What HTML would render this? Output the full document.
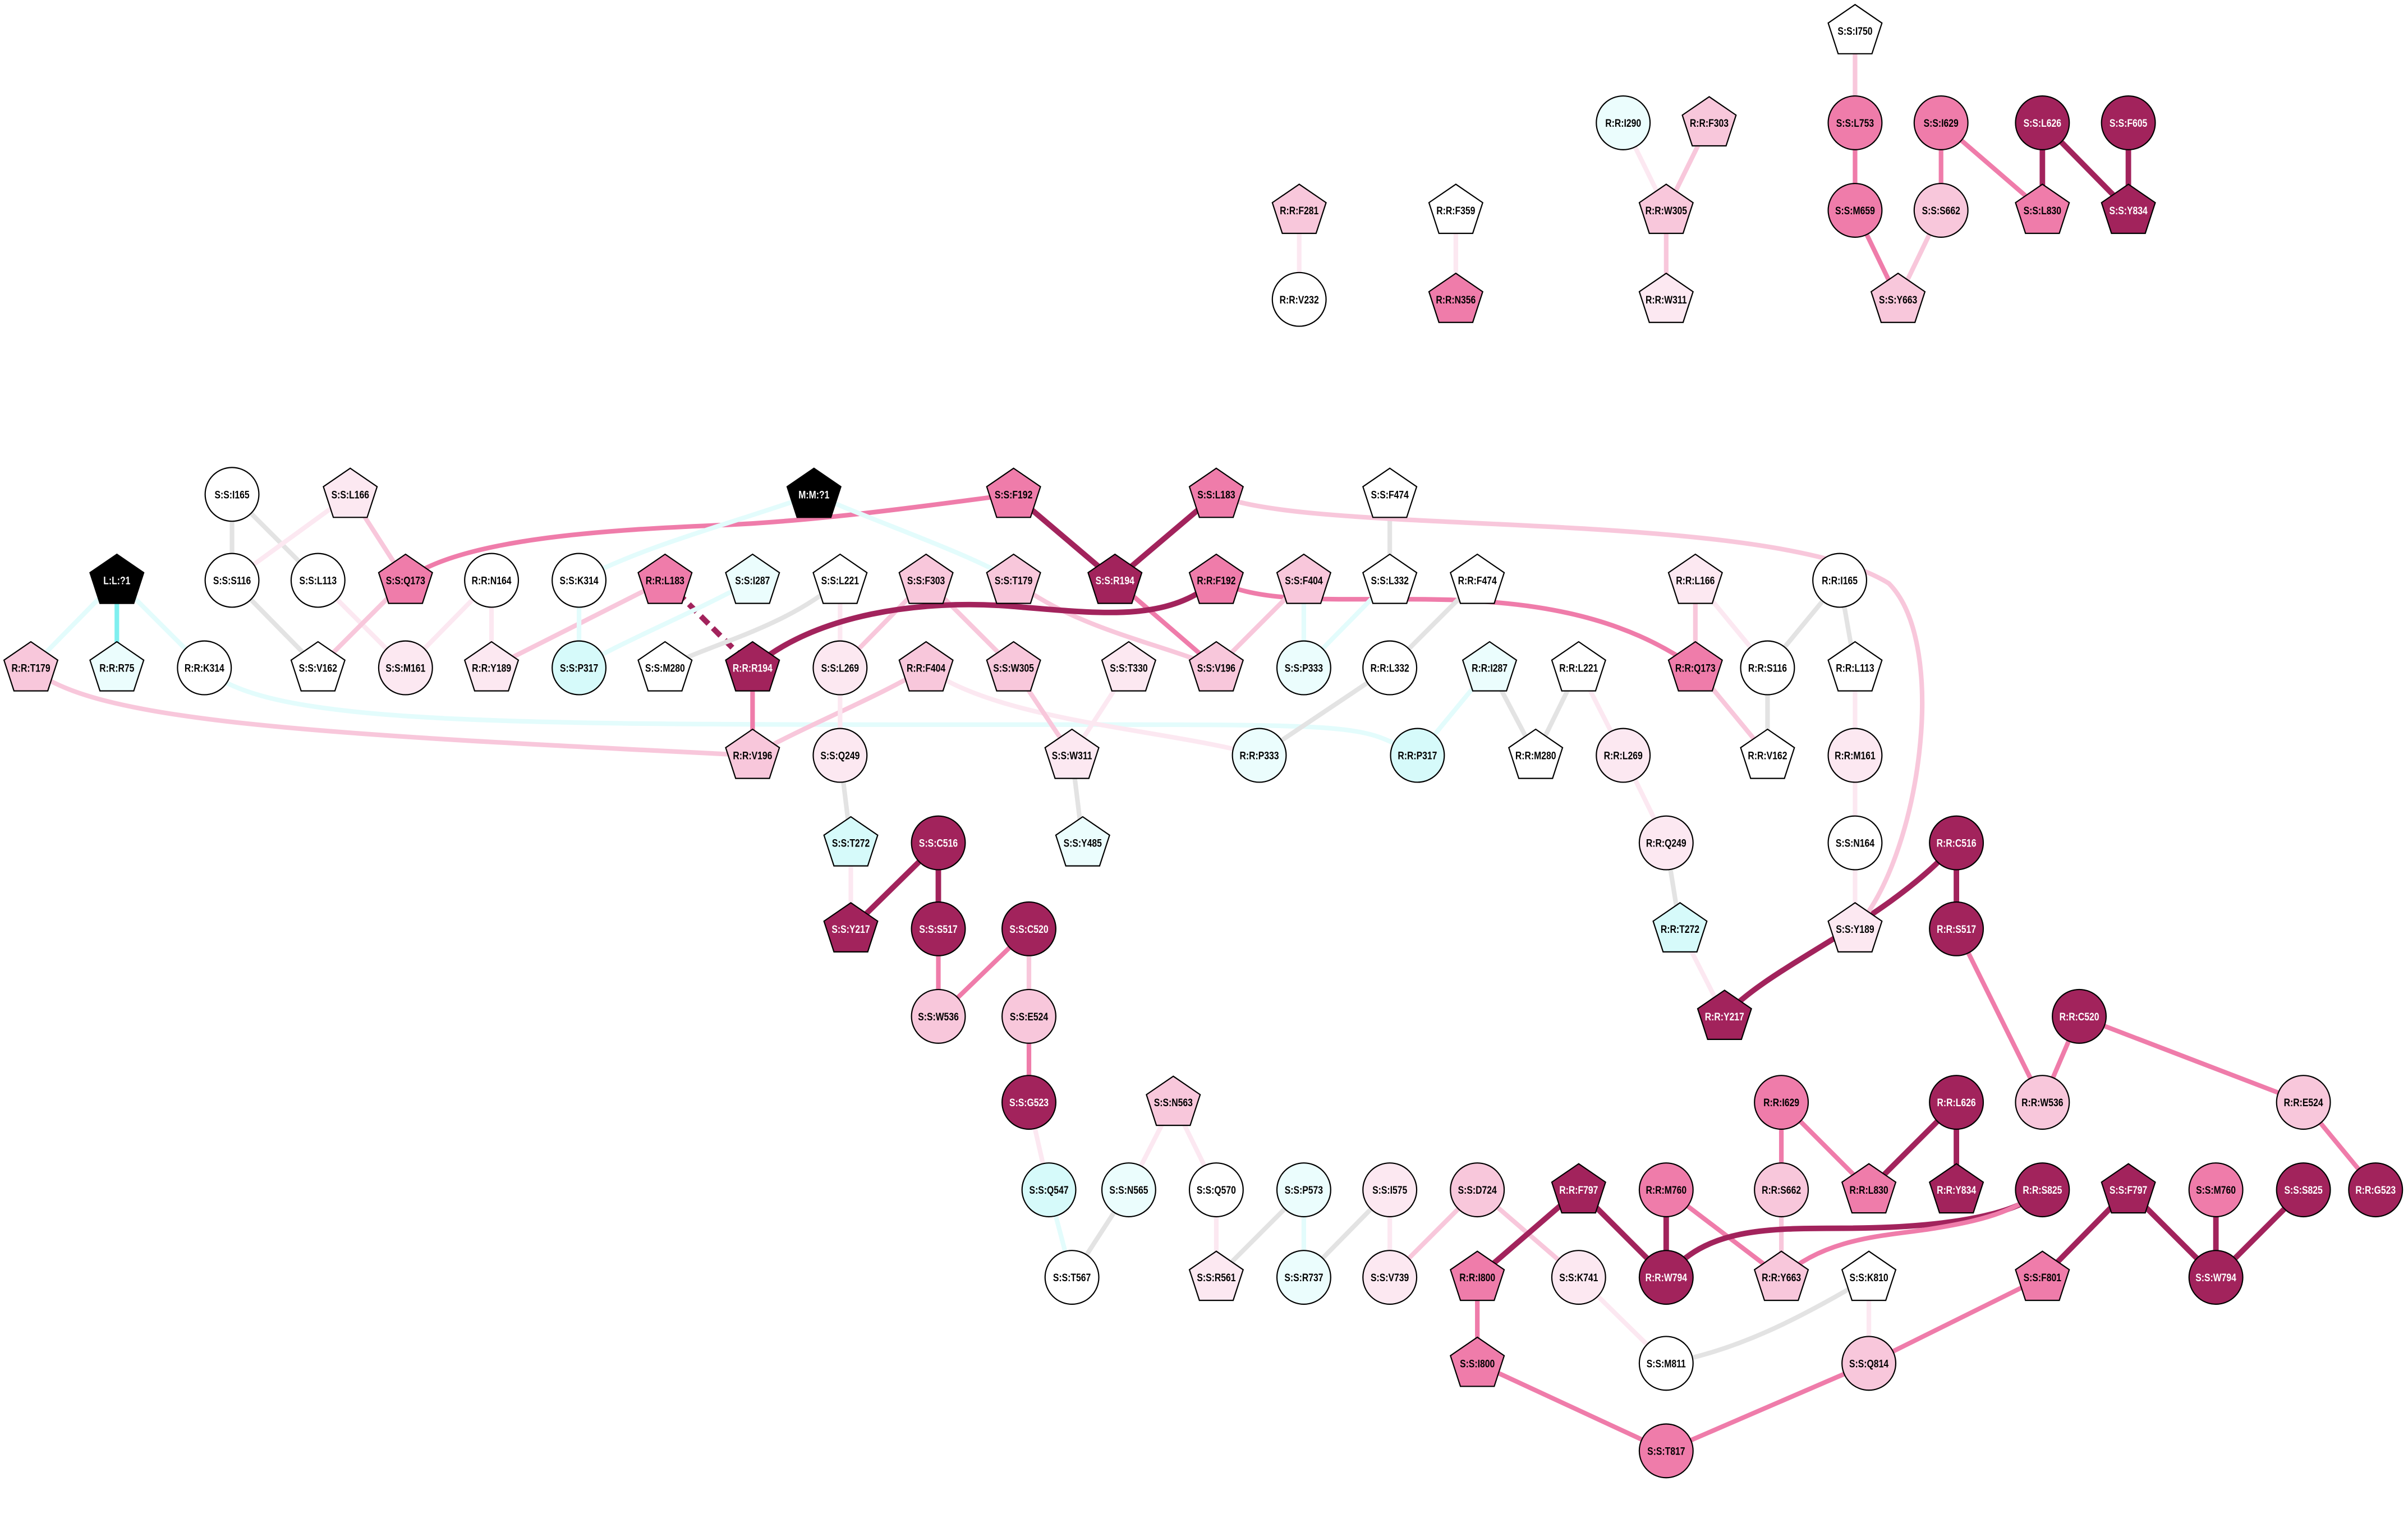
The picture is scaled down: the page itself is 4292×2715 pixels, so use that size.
<!DOCTYPE html>
<html><head><meta charset="utf-8"><style>
html,body{margin:0;padding:0;background:#fff;}
svg{display:block;}
text{font-family:"Liberation Sans Narrow","Liberation Sans",sans-serif;font-weight:bold;font-size:7.2px;text-anchor:middle;fill:#000;transform-box:fill-box;transform-origin:center;transform:scaleX(0.8);}
text.w{fill:#fff;}
.nd{stroke:#000;stroke-width:0.8;}
.D{fill:#A2235C}.M{fill:#EF7CAA}.L{fill:#F8C7DB}.V{fill:#FCE8F1}.W{fill:#fff}.C{fill:#D6FAFA}.c{fill:#EBFDFD}.K{fill:#000}
path.e,line{fill:none;stroke-width:3;}
.ed{stroke:#A2235C;stroke-width:3.6!important}.em{stroke:#EF7CAA}.el{stroke:#F8C7DB}.ev{stroke:#FCE8F1}.eg{stroke:#E3E3E3}.ec{stroke:#E3FCFC}.eC{stroke:#7FEFEF}
</style></head><body>
<svg width="4292" height="2715" viewBox="0 0 1568 992" xmlns="http://www.w3.org/2000/svg">
<defs><path id="p" d="M0,-17 L17.5,-5 L11,15 L-11,15 L-17.5,-5 Z"/></defs>
<g>
<line class="el" x1="1208" y1="20" x2="1208" y2="80"/>
<line class="em" x1="1208" y1="80" x2="1208" y2="137"/>
<line class="em" x1="1208" y1="137" x2="1236" y2="195"/>
<line class="em" x1="1264" y1="80" x2="1264" y2="137"/>
<line class="em" x1="1264" y1="80" x2="1330" y2="137"/>
<line class="el" x1="1264" y1="137" x2="1236" y2="195"/>
<line class="ed" x1="1330" y1="80" x2="1330" y2="137"/>
<line class="ed" x1="1330" y1="80" x2="1386" y2="137"/>
<line class="ed" x1="1386" y1="80" x2="1386" y2="137"/>
<line class="ev" x1="1057" y1="80" x2="1085" y2="137"/>
<line class="el" x1="1113" y1="80" x2="1085" y2="137"/>
<line class="el" x1="1085" y1="137" x2="1085" y2="195"/>
<line class="ev" x1="948" y1="137" x2="948" y2="195"/>
<line class="ev" x1="846" y1="137" x2="846" y2="195"/>
<line class="eg" x1="151" y1="322" x2="151" y2="378"/>
<line class="eg" x1="151" y1="322" x2="207" y2="378"/>
<line class="ev" x1="228" y1="322" x2="151" y2="378"/>
<line class="el" x1="228" y1="322" x2="264" y2="378"/>
<line class="eg" x1="151" y1="378" x2="207" y2="435"/>
<line class="ev" x1="207" y1="378" x2="264" y2="435"/>
<line class="el" x1="264" y1="378" x2="207" y2="435"/>
<path class="e em" d="M264,378 C300,350 400,345 470,342 S620,327 660,322"/>
<line class="ec" x1="76" y1="378" x2="20" y2="435"/>
<line class="eC" x1="76" y1="378" x2="76" y2="435"/>
<line class="ec" x1="76" y1="378" x2="133" y2="435"/>
<path class="e el" d="M20,435 C60,470 200,478 490,492"/>
<path class="e ec" d="M133,435 C170,470 300,472 600,472 S880,470 923,492"/>
<path class="e ec" d="M530,322 C480,340 420,355 377,378"/>
<path class="e ec" d="M530,322 C570,340 630,360 660,378"/>
<line class="ev" x1="320" y1="378" x2="320" y2="435"/>
<line class="ev" x1="320" y1="378" x2="264" y2="435"/>
<line class="ed" stroke-dasharray="7,4" x1="433" y1="378" x2="490" y2="435"/>
<line class="el" x1="433" y1="378" x2="320" y2="435"/>
<line class="ec" x1="377" y1="378" x2="377" y2="435"/>
<path class="e ec" d="M490,378 C450,400 400,420 377,435"/>
<path class="e eg" d="M547,378 C510,410 460,420 433,435"/>
<line class="ev" x1="547" y1="378" x2="547" y2="435"/>
<line class="el" x1="603" y1="378" x2="547" y2="435"/>
<line class="el" x1="603" y1="378" x2="660" y2="435"/>
<path class="e el" d="M660,378 C700,410 760,420 792,435"/>
<line class="ed" x1="660" y1="322" x2="726" y2="378"/>
<line class="ed" x1="792" y1="322" x2="726" y2="378"/>
<line class="em" x1="726" y1="378" x2="792" y2="435"/>
<path class="e ed" d="M490,435 C530,400 600,390 660,395 S760,405 792,378"/>
<path class="e em" d="M792,378 C850,410 1000,360 1104,435"/>
<line class="el" x1="849" y1="378" x2="792" y2="435"/>
<line class="ec" x1="849" y1="378" x2="849" y2="435"/>
<line class="eg" x1="905" y1="322" x2="905" y2="378"/>
<line class="ec" x1="905" y1="378" x2="849" y2="435"/>
<line class="eg" x1="962" y1="378" x2="905" y2="435"/>
<line class="eg" x1="905" y1="435" x2="820" y2="492"/>
<line class="em" x1="490" y1="435" x2="490" y2="492"/>
<path class="e el" d="M603,435 C570,455 530,470 490,492"/>
<path class="e ev" d="M603,435 C650,470 760,475 820,492"/>
<line class="ev" x1="547" y1="435" x2="547" y2="492"/>
<line class="el" x1="660" y1="435" x2="698" y2="492"/>
<line class="ev" x1="735" y1="435" x2="698" y2="492"/>
<line class="eg" x1="698" y1="492" x2="705" y2="549"/>
<line class="eg" x1="547" y1="492" x2="554" y2="549"/>
<line class="ev" x1="554" y1="549" x2="554" y2="605"/>
<line class="ed" x1="611" y1="549" x2="554" y2="605"/>
<line class="ed" x1="611" y1="549" x2="611" y2="605"/>
<line class="em" x1="611" y1="605" x2="611" y2="662"/>
<line class="em" x1="670" y1="605" x2="611" y2="662"/>
<line class="el" x1="670" y1="605" x2="670" y2="662"/>
<line class="em" x1="670" y1="662" x2="670" y2="718"/>
<line class="ev" x1="670" y1="718" x2="683" y2="775"/>
<line class="ec" x1="683" y1="775" x2="698" y2="832"/>
<line class="ev" x1="764" y1="718" x2="735" y2="775"/>
<line class="ev" x1="764" y1="718" x2="792" y2="775"/>
<line class="eg" x1="735" y1="775" x2="698" y2="832"/>
<line class="ev" x1="792" y1="775" x2="792" y2="832"/>
<line class="eg" x1="849" y1="775" x2="792" y2="832"/>
<line class="ec" x1="849" y1="775" x2="849" y2="832"/>
<line class="eg" x1="905" y1="775" x2="849" y2="832"/>
<line class="ev" x1="905" y1="775" x2="905" y2="832"/>
<line class="el" x1="962" y1="775" x2="905" y2="832"/>
<line class="el" x1="962" y1="775" x2="1028" y2="832"/>
<line class="ev" x1="1028" y1="832" x2="1085" y2="888"/>
<line class="ed" x1="1028" y1="775" x2="962" y2="832"/>
<line class="ed" x1="1028" y1="775" x2="1085" y2="832"/>
<line class="em" x1="962" y1="832" x2="962" y2="888"/>
<line class="em" x1="962" y1="888" x2="1085" y2="945"/>
<line class="ed" x1="1085" y1="775" x2="1085" y2="832"/>
<line class="em" x1="1085" y1="775" x2="1160" y2="832"/>
<line class="em" x1="1160" y1="718" x2="1160" y2="775"/>
<line class="em" x1="1160" y1="718" x2="1217" y2="775"/>
<line class="el" x1="1160" y1="775" x2="1160" y2="832"/>
<line class="ed" x1="1274" y1="718" x2="1217" y2="775"/>
<line class="ed" x1="1274" y1="718" x2="1274" y2="775"/>
<path class="e ed" d="M1085,832 C1110,800 1150,800 1200,800 S1310,795 1330,775"/>
<path class="e em" d="M1160,832 C1190,805 1230,805 1260,800 S1310,790 1330,775"/>
<path class="e eg" d="M1217,832 C1170,860 1130,880 1085,888"/>
<line class="ev" x1="1217" y1="832" x2="1217" y2="888"/>
<line class="em" x1="1217" y1="888" x2="1085" y2="945"/>
<line class="em" x1="1330" y1="832" x2="1217" y2="888"/>
<line class="ed" x1="1386" y1="775" x2="1330" y2="832"/>
<line class="ed" x1="1386" y1="775" x2="1443" y2="832"/>
<line class="ed" x1="1443" y1="775" x2="1443" y2="832"/>
<line class="ed" x1="1500" y1="775" x2="1443" y2="832"/>
<path class="e ed" d="M1274,549 C1230,600 1150,630 1123,662"/>
<line class="ed" x1="1274" y1="549" x2="1274" y2="605"/>
<line class="em" x1="1274" y1="605" x2="1330" y2="718"/>
<line class="em" x1="1354" y1="662" x2="1330" y2="718"/>
<line class="em" x1="1354" y1="662" x2="1500" y2="718"/>
<line class="em" x1="1500" y1="718" x2="1547" y2="775"/>
<line class="eg" x1="1085" y1="549" x2="1094" y2="605"/>
<line class="ev" x1="1094" y1="605" x2="1123" y2="662"/>
<line class="ev" x1="1057" y1="492" x2="1085" y2="549"/>
<line class="ev" x1="1028" y1="435" x2="1057" y2="492"/>
<line class="eg" x1="1028" y1="435" x2="1000" y2="492"/>
<line class="eg" x1="970" y1="435" x2="1000" y2="492"/>
<line class="ec" x1="970" y1="435" x2="923" y2="492"/>
<line class="el" x1="1104" y1="378" x2="1104" y2="435"/>
<line class="ev" x1="1104" y1="378" x2="1151" y2="435"/>
<line class="eg" x1="1198" y1="378" x2="1151" y2="435"/>
<line class="eg" x1="1198" y1="378" x2="1208" y2="435"/>
<line class="el" x1="1104" y1="435" x2="1151" y2="492"/>
<line class="eg" x1="1151" y1="435" x2="1151" y2="492"/>
<line class="ev" x1="1208" y1="435" x2="1208" y2="492"/>
<line class="ev" x1="1208" y1="492" x2="1208" y2="549"/>
<line class="ev" x1="1208" y1="549" x2="1208" y2="605"/>
<path class="e el" d="M792,322 C850,350 1150,330 1230,380 C1270,420 1250,560 1208,605"/>
</g>
<g class="nd">
<use href="#p" x="1208" y="20" class="W"/><circle cx="1208" cy="80" r="17.5" class="M"/><circle cx="1208" cy="137" r="17.5" class="M"/>
<circle cx="1264" cy="80" r="17.5" class="M"/><circle cx="1264" cy="137" r="17.5" class="L"/><use href="#p" x="1236" y="195" class="L"/>
<circle cx="1330" cy="80" r="17.5" class="D"/><use href="#p" x="1330" y="137" class="M"/>
<circle cx="1386" cy="80" r="17.5" class="D"/><use href="#p" x="1386" y="137" class="D"/>
<circle cx="1057" cy="80" r="17.5" class="c"/><use href="#p" x="1113" y="80" class="L"/><use href="#p" x="1085" y="137" class="L"/><use href="#p" x="1085" y="195" class="V"/>
<use href="#p" x="948" y="137" class="W"/><use href="#p" x="948" y="195" class="M"/>
<use href="#p" x="846" y="137" class="L"/><circle cx="846" cy="195" r="17.5" class="W"/>
<circle cx="151" cy="322" r="17.5" class="W"/><use href="#p" x="228" y="322" class="V"/>
<circle cx="151" cy="378" r="17.5" class="W"/><circle cx="207" cy="378" r="17.5" class="W"/><use href="#p" x="264" y="378" class="M"/>
<use href="#p" x="207" y="435" class="W"/><circle cx="264" cy="435" r="17.5" class="V"/>
<use href="#p" x="76" y="378" class="K"/><use href="#p" x="20" y="435" class="L"/><use href="#p" x="76" y="435" class="c"/><circle cx="133" cy="435" r="17.5" class="W"/>
<use href="#p" x="530" y="322" class="K"/><circle cx="377" cy="378" r="17.5" class="W"/><circle cx="320" cy="378" r="17.5" class="W"/><use href="#p" x="320" y="435" class="V"/>
<use href="#p" x="433" y="378" class="M"/><use href="#p" x="490" y="378" class="c"/><circle cx="377" cy="435" r="17.5" class="C"/><use href="#p" x="433" y="435" class="W"/>
<use href="#p" x="547" y="378" class="W"/><use href="#p" x="603" y="378" class="L"/><use href="#p" x="660" y="378" class="L"/>
<use href="#p" x="660" y="322" class="M"/><use href="#p" x="792" y="322" class="M"/><use href="#p" x="726" y="378" class="D"/><use href="#p" x="792" y="378" class="M"/>
<use href="#p" x="849" y="378" class="L"/><use href="#p" x="905" y="322" class="W"/><use href="#p" x="905" y="378" class="W"/><use href="#p" x="962" y="378" class="W"/>
<use href="#p" x="490" y="435" class="D"/><circle cx="547" cy="435" r="17.5" class="V"/><use href="#p" x="603" y="435" class="L"/><use href="#p" x="660" y="435" class="L"/>
<use href="#p" x="735" y="435" class="V"/><use href="#p" x="792" y="435" class="L"/><circle cx="849" cy="435" r="17.5" class="c"/><circle cx="905" cy="435" r="17.5" class="W"/>
<use href="#p" x="490" y="492" class="L"/><circle cx="547" cy="492" r="17.5" class="V"/><use href="#p" x="698" y="492" class="V"/><circle cx="820" cy="492" r="17.5" class="c"/>
<use href="#p" x="970" y="435" class="c"/><use href="#p" x="1028" y="435" class="W"/><circle cx="923" cy="492" r="17.5" class="C"/><use href="#p" x="1000" y="492" class="W"/><circle cx="1057" cy="492" r="17.5" class="V"/>
<use href="#p" x="1104" y="378" class="V"/><circle cx="1198" cy="378" r="17.5" class="W"/><use href="#p" x="1104" y="435" class="M"/><circle cx="1151" cy="435" r="17.5" class="W"/><use href="#p" x="1208" y="435" class="W"/>
<use href="#p" x="1151" y="492" class="W"/><circle cx="1208" cy="492" r="17.5" class="V"/><circle cx="1208" cy="549" r="17.5" class="W"/><use href="#p" x="1208" y="605" class="V"/>
<circle cx="1085" cy="549" r="17.5" class="V"/><use href="#p" x="1094" y="605" class="C"/><use href="#p" x="1123" y="662" class="D"/>
<use href="#p" x="554" y="549" class="C"/><use href="#p" x="554" y="605" class="D"/><use href="#p" x="705" y="549" class="c"/>
<circle cx="611" cy="549" r="17.5" class="D"/><circle cx="611" cy="605" r="17.5" class="D"/><circle cx="670" cy="605" r="17.5" class="D"/>
<circle cx="611" cy="662" r="17.5" class="L"/><circle cx="670" cy="662" r="17.5" class="L"/><circle cx="670" cy="718" r="17.5" class="D"/>
<circle cx="683" cy="775" r="17.5" class="C"/><use href="#p" x="764" y="718" class="L"/><circle cx="735" cy="775" r="17.5" class="c"/><circle cx="792" cy="775" r="17.5" class="W"/>
<circle cx="698" cy="832" r="17.5" class="W"/><circle cx="849" cy="775" r="17.5" class="c"/><use href="#p" x="792" y="832" class="V"/><circle cx="849" cy="832" r="17.5" class="c"/>
<circle cx="905" cy="775" r="17.5" class="V"/><circle cx="905" cy="832" r="17.5" class="V"/><circle cx="962" cy="775" r="17.5" class="L"/><circle cx="1028" cy="832" r="17.5" class="V"/>
<use href="#p" x="1028" y="775" class="D"/><use href="#p" x="962" y="832" class="M"/><use href="#p" x="962" y="888" class="M"/><circle cx="1085" cy="888" r="17.5" class="W"/>
<circle cx="1085" cy="775" r="17.5" class="M"/><circle cx="1085" cy="832" r="17.5" class="D"/>
<circle cx="1160" cy="718" r="17.5" class="M"/><circle cx="1160" cy="775" r="17.5" class="L"/><use href="#p" x="1160" y="832" class="L"/><use href="#p" x="1217" y="775" class="M"/>
<circle cx="1274" cy="718" r="17.5" class="D"/><use href="#p" x="1274" y="775" class="D"/><circle cx="1330" cy="775" r="17.5" class="D"/>
<use href="#p" x="1217" y="832" class="W"/><circle cx="1217" cy="888" r="17.5" class="L"/><circle cx="1085" cy="945" r="17.5" class="M"/>
<circle cx="1274" cy="549" r="17.5" class="D"/><circle cx="1274" cy="605" r="17.5" class="D"/><circle cx="1354" cy="662" r="17.5" class="D"/>
<circle cx="1330" cy="718" r="17.5" class="L"/><circle cx="1500" cy="718" r="17.5" class="L"/><circle cx="1547" cy="775" r="17.5" class="D"/>
<use href="#p" x="1386" y="775" class="D"/><use href="#p" x="1330" y="832" class="M"/><circle cx="1443" cy="775" r="17.5" class="M"/><circle cx="1500" cy="775" r="17.5" class="D"/><circle cx="1443" cy="832" r="17.5" class="D"/>
</g>
<g transform="translate(0,2.6)">
<text x="1208" y="20">S:S:I750</text><text x="1208" y="80">S:S:L753</text><text x="1208" y="137">S:S:M659</text>
<text x="1264" y="80">S:S:I629</text><text x="1264" y="137">S:S:S662</text><text x="1236" y="195">S:S:Y663</text>
<text class="w" x="1330" y="80">S:S:L626</text><text x="1330" y="137">S:S:L830</text>
<text class="w" x="1386" y="80">S:S:F605</text><text class="w" x="1386" y="137">S:S:Y834</text>
<text x="1057" y="80">R:R:I290</text><text x="1113" y="80">R:R:F303</text><text x="1085" y="137">R:R:W305</text><text x="1085" y="195">R:R:W311</text>
<text x="948" y="137">R:R:F359</text><text x="948" y="195">R:R:N356</text><text x="846" y="137">R:R:F281</text><text x="846" y="195">R:R:V232</text>
<text x="151" y="322">S:S:I165</text><text x="228" y="322">S:S:L166</text><text x="151" y="378">S:S:S116</text><text x="207" y="378">S:S:L113</text><text x="264" y="378">S:S:Q173</text>
<text x="207" y="435">S:S:V162</text><text x="264" y="435">S:S:M161</text>
<text class="w" x="76" y="378">L:L:?1</text><text x="20" y="435">R:R:T179</text><text x="76" y="435">R:R:R75</text><text x="133" y="435">R:R:K314</text>
<text class="w" x="530" y="322">M:M:?1</text><text x="377" y="378">S:S:K314</text><text x="320" y="378">R:R:N164</text><text x="320" y="435">R:R:Y189</text>
<text x="433" y="378">R:R:L183</text><text x="490" y="378">S:S:I287</text><text x="377" y="435">S:S:P317</text><text x="433" y="435">S:S:M280</text>
<text x="547" y="378">S:S:L221</text><text x="603" y="378">S:S:F303</text><text x="660" y="378">S:S:T179</text>
<text x="660" y="322">S:S:F192</text><text x="792" y="322">S:S:L183</text><text class="w" x="726" y="378">S:S:R194</text><text x="792" y="378">R:R:F192</text>
<text x="849" y="378">S:S:F404</text><text x="905" y="322">S:S:F474</text><text x="905" y="378">S:S:L332</text><text x="962" y="378">R:R:F474</text>
<text class="w" x="490" y="435">R:R:R194</text><text x="547" y="435">S:S:L269</text><text x="603" y="435">R:R:F404</text><text x="660" y="435">S:S:W305</text>
<text x="735" y="435">S:S:T330</text><text x="792" y="435">S:S:V196</text><text x="849" y="435">S:S:P333</text><text x="905" y="435">R:R:L332</text>
<text x="490" y="492">R:R:V196</text><text x="547" y="492">S:S:Q249</text><text x="698" y="492">S:S:W311</text><text x="820" y="492">R:R:P333</text>
<text x="970" y="435">R:R:I287</text><text x="1028" y="435">R:R:L221</text><text x="923" y="492">R:R:P317</text><text x="1000" y="492">R:R:M280</text><text x="1057" y="492">R:R:L269</text>
<text x="1104" y="378">R:R:L166</text><text x="1198" y="378">R:R:I165</text><text x="1104" y="435">R:R:Q173</text><text x="1151" y="435">R:R:S116</text><text x="1208" y="435">R:R:L113</text>
<text x="1151" y="492">R:R:V162</text><text x="1208" y="492">R:R:M161</text><text x="1208" y="549">S:S:N164</text><text x="1208" y="605">S:S:Y189</text>
<text x="1085" y="549">R:R:Q249</text><text x="1094" y="605">R:R:T272</text><text class="w" x="1123" y="662">R:R:Y217</text>
<text x="554" y="549">S:S:T272</text><text class="w" x="554" y="605">S:S:Y217</text><text x="705" y="549">S:S:Y485</text>
<text class="w" x="611" y="549">S:S:C516</text><text class="w" x="611" y="605">S:S:S517</text><text class="w" x="670" y="605">S:S:C520</text>
<text x="611" y="662">S:S:W536</text><text x="670" y="662">S:S:E524</text><text class="w" x="670" y="718">S:S:G523</text>
<text x="683" y="775">S:S:Q547</text><text x="764" y="718">S:S:N563</text><text x="735" y="775">S:S:N565</text><text x="792" y="775">S:S:Q570</text>
<text x="698" y="832">S:S:T567</text><text x="849" y="775">S:S:P573</text><text x="792" y="832">S:S:R561</text><text x="849" y="832">S:S:R737</text>
<text x="905" y="775">S:S:I575</text><text x="905" y="832">S:S:V739</text><text x="962" y="775">S:S:D724</text><text x="1028" y="832">S:S:K741</text>
<text class="w" x="1028" y="775">R:R:F797</text><text x="962" y="832">R:R:I800</text><text x="962" y="888">S:S:I800</text><text x="1085" y="888">S:S:M811</text>
<text x="1085" y="775">R:R:M760</text><text class="w" x="1085" y="832">R:R:W794</text>
<text x="1160" y="718">R:R:I629</text><text x="1160" y="775">R:R:S662</text><text x="1160" y="832">R:R:Y663</text><text x="1217" y="775">R:R:L830</text>
<text class="w" x="1274" y="718">R:R:L626</text><text class="w" x="1274" y="775">R:R:Y834</text><text class="w" x="1330" y="775">R:R:S825</text>
<text x="1217" y="832">S:S:K810</text><text x="1217" y="888">S:S:Q814</text><text x="1085" y="945">S:S:T817</text>
<text class="w" x="1274" y="549">R:R:C516</text><text class="w" x="1274" y="605">R:R:S517</text><text class="w" x="1354" y="662">R:R:C520</text>
<text x="1330" y="718">R:R:W536</text><text x="1500" y="718">R:R:E524</text><text class="w" x="1547" y="775">R:R:G523</text>
<text class="w" x="1386" y="775">S:S:F797</text><text x="1330" y="832">S:S:F801</text><text x="1443" y="775">S:S:M760</text><text class="w" x="1500" y="775">S:S:S825</text><text class="w" x="1443" y="832">S:S:W794</text>
</g>
</svg>
</body></html>
